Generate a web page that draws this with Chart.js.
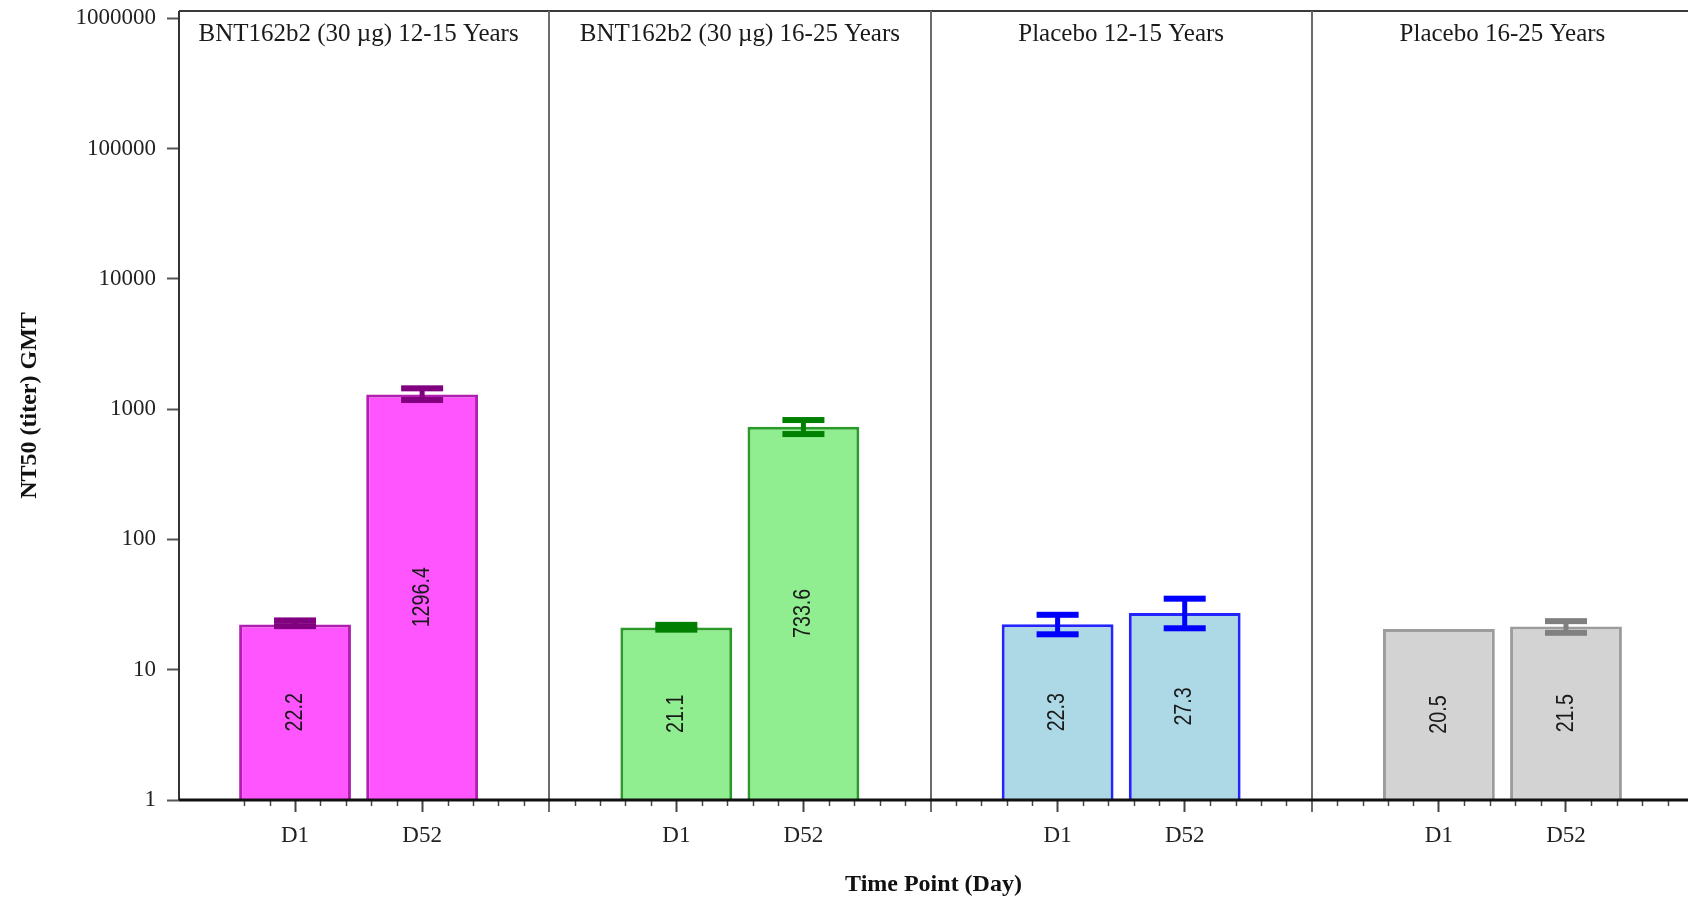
<!DOCTYPE html>
<html>
<head>
<meta charset="utf-8">
<script src="https://cdn.jsdelivr.net/npm/chart.js@4.4.1/dist/chart.umd.min.js"></script>
<style>
html,body{margin:0;padding:0;background:#fff;}
canvas{display:block;}
</style>
</head>
<body>
<canvas id="c" width="1688" height="900"></canvas>
<script>
// ---- data ----
const groups = ['BNT162b2 (30 \u00B5g) 12-15 Years', 'BNT162b2 (30 \u00B5g) 16-25 Years', 'Placebo 12-15 Years', 'Placebo 16-25 Years'];
const timePoints = ['D1', 'D52'];
const gmtD1 = [22.2, 21.1, 22.3, 20.5];
const gmtD52 = [1296.4, 733.6, 27.3, 21.5];
const ciLowD1 = [21.6, 20.3, 18.7, null];
const ciHighD1 = [23.9, 22.1, 26.4, null];
const ciLowD52 = [1175, 644, 20.8, 19.2];
const ciHighD52 = [1445, 825, 35.1, 23.6];
const yTickValues = [1, 10, 100, 1000, 10000, 100000, 1000000];

// ---- styles ----
const fillColors = ['#FF55FF', '#90EE90', '#ADD8E6', '#D3D3D3'];
const edgeColors = ['#B01FB0', '#2A9A2A', '#2424FF', '#9C9C9C'];
const errColors = ['#800080', '#007F00', '#0000FF', '#808080'];
const SERIF = "'Liberation Serif', 'Times New Roman', serif";
const SANS = "'Liberation Sans', Arial, sans-serif";

// build points from the arrays (each panel spans 3 units; D1 at +1, D52 at +2)
const points = [], bgs = [], bds = [], errs = [], lows = [], highs = [], xLabels = {};
groups.forEach((g, gi) => {
  const vals = [gmtD1[gi], gmtD52[gi]];
  const lo = [ciLowD1[gi], ciLowD52[gi]];
  const hi = [ciHighD1[gi], ciHighD52[gi]];
  timePoints.forEach((tp, ti) => {
    const x = gi * 3 + 1 + ti;
    points.push({x: x, y: vals[ti]});
    xLabels[x] = tp;
    bgs.push(fillColors[gi]); bds.push(edgeColors[gi]); errs.push(errColors[gi]);
    lows.push(lo[ti]); highs.push(hi[ti]);
  });
});
const X_MIN = 0.087, X_MAX = 11.96;

const framePlugin = {
  id: 'frame',
  afterDatasetsDraw(chart) {
    const ctx = chart.ctx, xs = chart.scales.x, ys = chart.scales.y, a = chart.chartArea;
    ctx.save();
    // error bars
    points.forEach((p, i) => {
      if (lows[i] == null || highs[i] == null) return;
      const px = xs.getPixelForValue(p.x);
      const yu = ys.getPixelForValue(highs[i]);
      const yl = ys.getPixelForValue(lows[i]);
      ctx.fillStyle = errs[i];
      ctx.fillRect(px - 2.5, yu, 5, yl - yu);
      ctx.fillRect(px - 21, yu - 3, 42, 6);
      ctx.fillRect(px - 21, yl - 3, 42, 6);
    });
    // value labels inside bars (rotated)
    const meta = chart.getDatasetMeta(0);
    meta.data.forEach((bar, i) => {
      const pr = bar.getProps(['x', 'y', 'base'], true);
      const cy = (pr.y + pr.base) / 2;
      ctx.save();
      ctx.translate(pr.x, cy);
      ctx.rotate(-Math.PI / 2);
      ctx.scale(0.82, 1);
      ctx.font = '24px ' + SANS;
      ctx.fillStyle = '#1a1a1a';
      ctx.textAlign = 'center';
      ctx.textBaseline = 'middle';
      ctx.fillText(String(points[i].y), 0, 0);
      ctx.restore();
    });
    // top border
    ctx.strokeStyle = '#3a3a3a'; ctx.lineWidth = 2;
    ctx.beginPath(); ctx.moveTo(a.left, a.top); ctx.lineTo(a.right, a.top); ctx.stroke();
    // dividers
    ctx.strokeStyle = '#6b6b6b'; ctx.lineWidth = 2;
    [3, 6, 9].forEach(v => {
      const px = Math.round(xs.getPixelForValue(v));
      ctx.beginPath(); ctx.moveTo(px, a.top); ctx.lineTo(px, a.bottom + 12); ctx.stroke();
    });
    // minor ticks
    ctx.strokeStyle = '#444'; ctx.lineWidth = 1.5;
    for (let k = 3; k <= 59; k++) {
      if (k % 5 === 0) continue;
      const px = Math.round(xs.getPixelForValue(k / 5)) + 0.5;
      ctx.beginPath(); ctx.moveTo(px, a.bottom); ctx.lineTo(px, a.bottom + 6); ctx.stroke();
    }
    // left axis
    ctx.strokeStyle = '#333'; ctx.lineWidth = 2;
    ctx.beginPath(); ctx.moveTo(a.left, a.top); ctx.lineTo(a.left, a.bottom); ctx.stroke();
    // bottom axis
    ctx.strokeStyle = '#111'; ctx.lineWidth = 3;
    ctx.beginPath(); ctx.moveTo(a.left, a.bottom); ctx.lineTo(a.right, a.bottom); ctx.stroke();
    // panel titles
    ctx.font = '25px ' + SERIF;
    ctx.fillStyle = '#1a1a1a';
    ctx.textAlign = 'center';
    ctx.textBaseline = 'alphabetic';
    groups.forEach((g, gi) => {
      const cx = xs.getPixelForValue(gi * 3 + 1.5);
      ctx.fillText(g, cx, a.top + 30);
    });
    ctx.restore();
  }
};

new Chart(document.getElementById('c'), {
  type: 'bar',
  data: {
    datasets: [{
      data: points,
      backgroundColor: bgs,
      borderColor: bds,
      borderWidth: 3,
      borderSkipped: 'start',
      barPercentage: 0.88,
      categoryPercentage: 1.0
    }]
  },
  options: {
    responsive: false,
    animation: false,
    devicePixelRatio: 1,
    layout: {padding: {top: 11, left: 0, right: 0, bottom: 0}},
    plugins: {legend: {display: false}, tooltip: {enabled: false}},
    scales: {
      x: {
        type: 'linear',
        min: X_MIN,
        max: X_MAX,
        offset: false,
        afterBuildTicks: s => { s.ticks = Object.keys(xLabels).map(v => ({value: Number(v)})); },
        afterFit: s => { s.height = 100; s.paddingLeft = 0; s.paddingRight = 0; },
        ticks: {
          callback: v => xLabels[v] || '',
          font: {family: SERIF, size: 23},
          color: '#222',
          padding: 10,
          maxRotation: 0,
          autoSkip: false
        },
        grid: {offset: false, drawOnChartArea: false, drawTicks: true, tickLength: 12, tickColor: '#444', tickWidth: 2},
        border: {display: false},
        title: {display: true, text: 'Time Point (Day)', font: {family: SERIF, size: 24, weight: 'bold'}, color: '#111', padding: {top: 0, bottom: 1}}
      },
      y: {
        type: 'logarithmic',
        min: 1,
        max: 1138000,
        afterBuildTicks: s => { s.ticks = yTickValues.map(v => ({value: v})); },
        afterFit: s => { s.width = 179; s.paddingTop = 0; s.paddingBottom = 0; },
        ticks: {
          callback: v => String(v),
          font: {family: SERIF, size: 23},
          color: '#222',
          padding: 11,
          autoSkip: false
        },
        grid: {drawOnChartArea: false, drawTicks: true, tickLength: 12, tickColor: '#555', tickWidth: 2},
        border: {display: false},
        title: {display: true, text: 'NT50 (titer) GMT', font: {family: SERIF, size: 24, weight: 'bold'}, color: '#111', padding: {top: 15, bottom: 0}}
      }
    }
  },
  plugins: [framePlugin]
});
</script>
</body>
</html>
